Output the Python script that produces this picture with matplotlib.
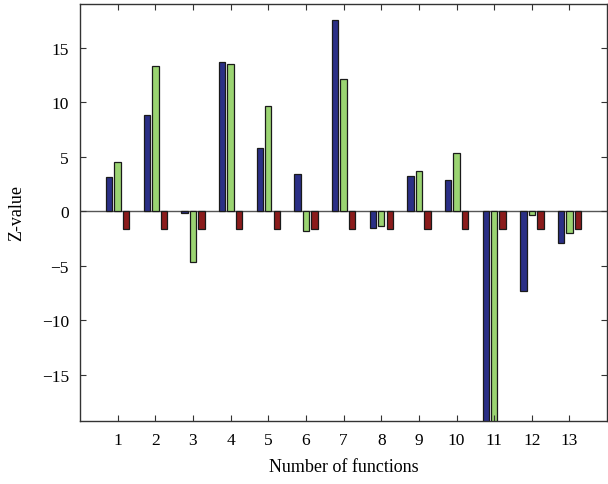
import matplotlib
matplotlib.use("Agg")
import matplotlib.pyplot as plt
import numpy as np

# values
groups = np.arange(1, 14)
blue_vals = [3.1, 8.8, -0.15, 13.7, 5.8, 3.4, 17.5, -1.5, 3.2, 2.9, -22.0, -7.3, -2.9]
green_vals = [4.5, 13.3, -4.6, 13.5, 9.6, -1.8, 12.1, -1.35, 3.7, 5.3, -22.0, -0.35, -2.0]
red_vals = [-1.6] * 13

plt.rcParams['font.family'] = ['Liberation Serif', 'DejaVu Serif']

fig = plt.figure(figsize=(6.08, 4.85), dpi=100)
ax = fig.add_axes([0.1316, 0.130, 0.867, 0.860])

w = 0.17
off = 0.225
ax.bar(groups - off, blue_vals, width=w, color='#2b2f86', edgecolor='#1a1a1a', linewidth=0.9)
ax.bar(groups, green_vals, width=w, color='#9bd472', edgecolor='#1a1a1a', linewidth=0.9)
ax.bar(groups + off, red_vals, width=w, color='#8b1c1c', edgecolor='#1a1a1a', linewidth=0.9)

ax.axhline(0, color='#555555', linewidth=1.0, zorder=0.5)

ax.set_xlim(0, 14)
ax.set_ylim(-19.2, 19.0)
ax.set_xticks(groups)
ax.set_yticks([-15, -10, -5, 0, 5, 10, 15])
ax.tick_params(direction='in', length=4, width=0.8, top=True, right=True,
               labelsize=12.5, color='#333333', pad=8)
for s in ax.spines.values():
    s.set_color('#333333')
    s.set_linewidth(1.0)

ax.set_xlabel("Number of functions", fontsize=13, labelpad=7)
ax.set_ylabel("Z-value", fontsize=13, labelpad=12)

fig.savefig("out.png", dpi=100)
